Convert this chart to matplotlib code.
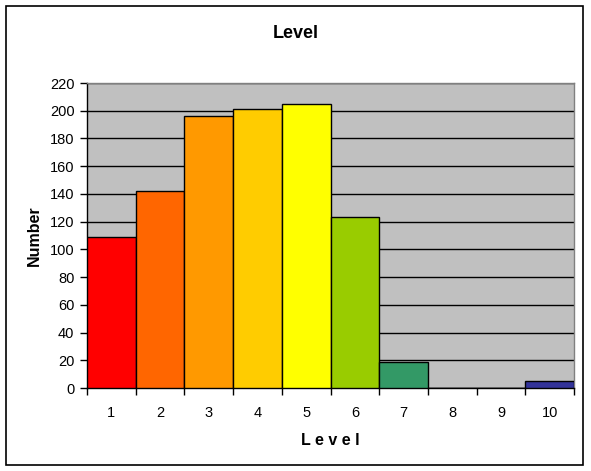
import matplotlib
matplotlib.use("Agg")
import matplotlib.pyplot as plt
from matplotlib.patches import Rectangle
from matplotlib.ticker import FixedLocator

levels = [1, 2, 3, 4, 5, 6, 7, 8, 9, 10]
counts = [109, 142, 196, 201, 205, 123, 19, 0, 0, 5]
colors = ["#FF0000", "#FF6600", "#FF9900", "#FFCC00", "#FFFF00",
          "#99CC00", "#339966", "#3366FF", "#6666CC", "#333399"]
yticks = list(range(0, 221, 20))

plt.rcParams['font.family'] = ['Liberation Sans', 'DejaVu Sans']

W, H = 591, 471
fig = plt.figure(figsize=(W / 100, H / 100), dpi=100)
fig.patch.set_facecolor("white")

# outer chart border
fig.add_artist(Rectangle((6 / W, 1 - 465 / H), (583 - 6) / W, (465 - 6) / H,
                         transform=fig.transFigure, fill=False,
                         edgecolor="black", linewidth=1.2))

x0, x1, y0, y1 = 87, 574, 83, 388
ax = fig.add_axes([x0 / W, 1 - y1 / H, (x1 - x0) / W, (y1 - y0) / H])
ax.set_facecolor("#C0C0C0")

ax.bar(levels, counts, width=1.0, color=colors, edgecolor="black",
       linewidth=1.0, zorder=3)

ax.set_xlim(0.5, 10.5)
ax.set_ylim(0, 220)
ax.set_yticks(yticks)
ax.set_yticklabels([str(v) for v in yticks], fontsize=10.5)
ax.yaxis.grid(True, color="black", linewidth=1.0, zorder=1)
ax.set_axisbelow(True)

ax.set_xticks(levels)
ax.set_xticklabels([str(v) for v in levels], fontsize=10.5)
ax.xaxis.set_minor_locator(FixedLocator([l + 0.5 for l in [0] + levels]))
ax.tick_params(axis="x", which="major", length=0, pad=13)
ax.tick_params(axis="x", which="minor", length=5, width=1, color="black")
ax.tick_params(axis="y", length=5, width=1, color="black", pad=4)

for s in ["top", "right"]:
    ax.spines[s].set_color("#808080")
    ax.spines[s].set_linewidth(1.0)
for s in ["left", "bottom"]:
    ax.spines[s].set_color("black")
    ax.spines[s].set_linewidth(1.0)

ax.set_xlabel("L e v e l", fontsize=11.5, fontweight="bold", labelpad=9)
ax.set_ylabel("Number", fontsize=11.5, fontweight="bold", labelpad=6)
fig.text(0.5, 1 - 33 / H, "Level", ha="center", va="center",
         fontsize=13, fontweight="bold")

fig.savefig("out.png", dpi=100, facecolor="white")
